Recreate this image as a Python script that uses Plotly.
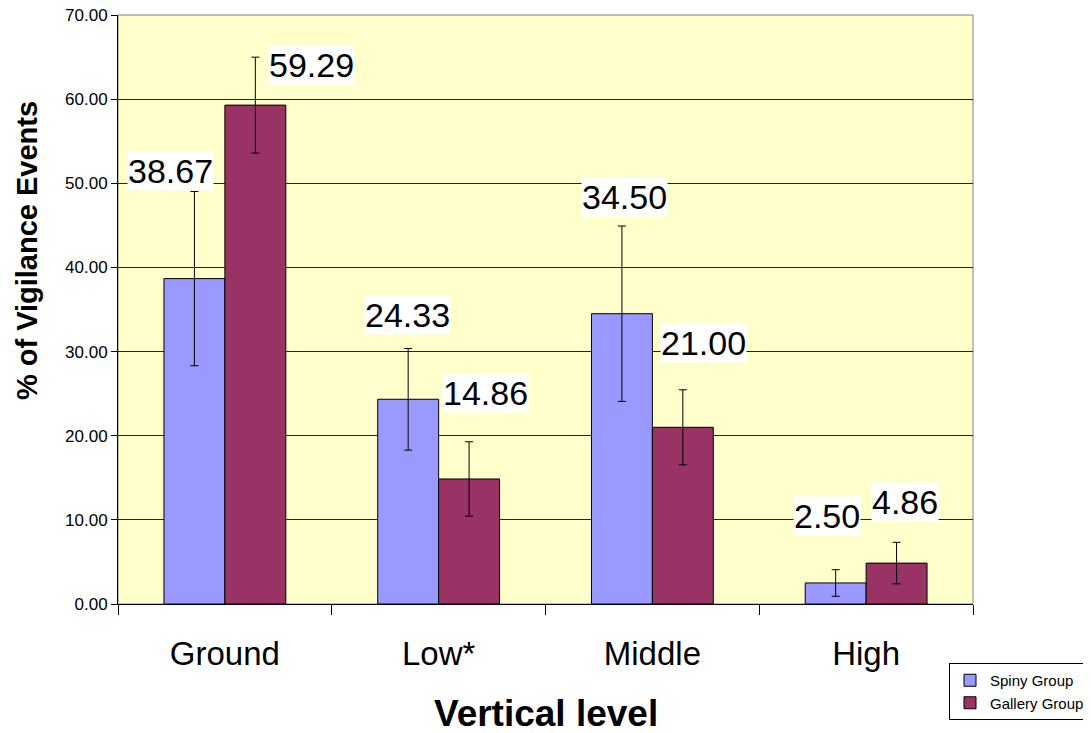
import plotly.graph_objects as go

categories = ["Ground", "Low*", "Middle", "High"]
spiny_values = [38.67, 24.33, 34.50, 2.50]
gallery_values = [59.29, 14.86, 21.00, 4.86]
spiny_errors = [10.35, 6.04, 10.42, 1.58]
gallery_errors = [5.70, 4.42, 4.46, 2.47]
y_tick_values = [0, 10, 20, 30, 40, 50, 60, 70]

# label pixel offsets (relative to group centre / bar top), style only
spiny_label_dx = [-54, -31, -28, -39]
spiny_label_dy = [108, 84, 117, 67]
gallery_label_dx = [87, 47, 51, 39]
gallery_label_dy = [40, 86, 84, 61]

FONT = "Arial, Liberation Sans, sans-serif"
# the page body has an 8px default margin; the figure is sized to compensate
W, H = 1083, 725

fig = go.Figure()
fig.add_trace(go.Bar(
    name="Spiny Group", x=categories, y=spiny_values,
    marker=dict(color="#9999FF", line=dict(color="black", width=1)),
    error_y=dict(type="data", array=spiny_errors, color="black", thickness=1, width=4),
))
fig.add_trace(go.Bar(
    name="Gallery Group", x=categories, y=gallery_values,
    marker=dict(color="#993366", line=dict(color="black", width=1)),
    error_y=dict(type="data", array=gallery_errors, color="black", thickness=1, width=4),
))

annotations = []
for i, c in enumerate(categories):
    for vals, dx, dy in ((spiny_values, spiny_label_dx, spiny_label_dy),
                         (gallery_values, gallery_label_dx, gallery_label_dy)):
        annotations.append(dict(
            x=c, y=vals[i], xref="x", yref="y", text=f"{vals[i]:.2f}",
            showarrow=False, xshift=dx[i], yshift=dy[i],
            bgcolor="white", borderpad=0,
            font=dict(family=FONT, size=34, color="black"),
            xanchor="center", yanchor="middle",
        ))

annotations.append(dict(
    text="<b>% of Vigilance Events</b>", textangle=-90,
    xref="paper", yref="paper", x=-0.107, y=0.6,
    xanchor="center", yanchor="middle", showarrow=False,
    font=dict(family=FONT, size=29, color="black"),
))
annotations.append(dict(
    text="<b>Vertical level</b>",
    xref="paper", yref="paper", x=0.5, y=-0.186,
    xanchor="center", yanchor="middle", showarrow=False,
    font=dict(family=FONT, size=37, color="black"),
))

fig.update_layout(
    width=W, height=H,
    margin=dict(l=110, r=118, t=7, b=129, autoexpand=False),
    paper_bgcolor="white", plot_bgcolor="#FFFFCC",
    barmode="group", bargap=0.43, bargroupgap=0,
    font=dict(family=FONT, color="black"),
    annotations=annotations,
    showlegend=True,
    legend=dict(
        xref="container", yref="container",
        x=1082 / W, xanchor="right", y=1 - 655 / H, yanchor="top",
        bordercolor="black", borderwidth=1, bgcolor="white",
        font=dict(family=FONT, size=15, color="black"),
        itemwidth=30, tracegroupgap=0,
    ),
    shapes=[dict(type="rect", xref="paper", yref="paper", x0=0, x1=1, y0=0, y1=1,
                 line=dict(color="#808080", width=1), layer="below")],
)
fig.update_xaxes(
    type="category", tickson="boundaries", ticks="outside", ticklen=10,
    tickcolor="black", showline=True, linecolor="black", linewidth=1,
    tickfont=dict(family=FONT, size=33, color="black"), ticklabelstandoff=20,
    showgrid=False, automargin=False,
)
fig.update_yaxes(
    range=[0, 70], tickvals=y_tick_values, tickformat=".2f",
    ticks="outside", ticklen=6, tickcolor="black",
    showline=True, linecolor="black", linewidth=1,
    showgrid=True, gridcolor="#222222", gridwidth=1,
    tickfont=dict(family=FONT, size=17, color="black"),
    ticklabeloverflow="allow",
    zeroline=False, automargin=False,
)

fig.write_html("out.html")
